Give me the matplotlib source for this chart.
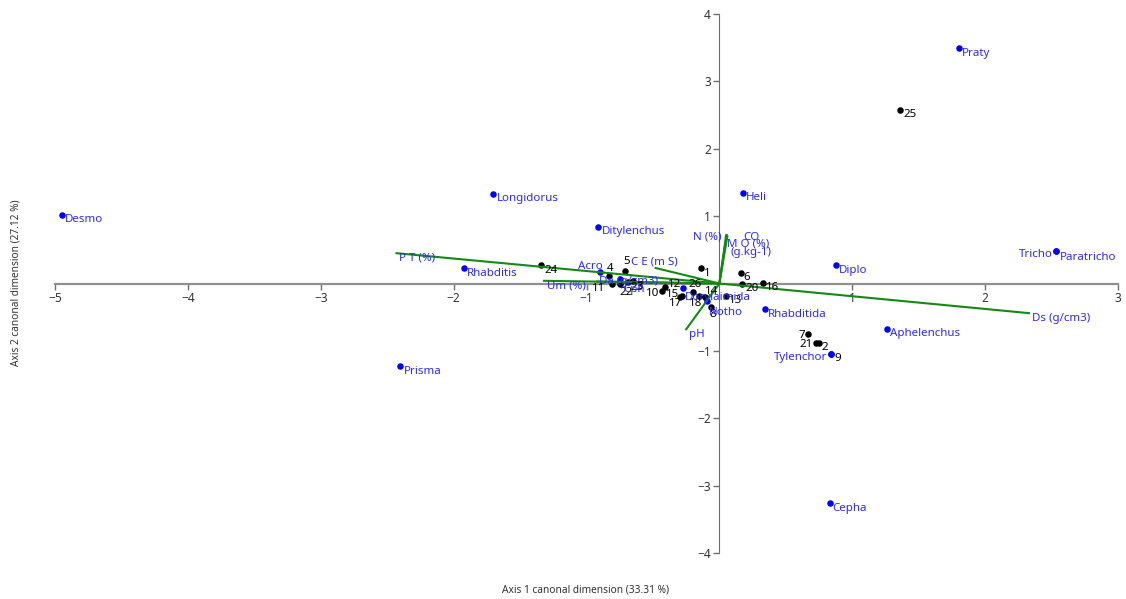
import matplotlib
matplotlib.use("Agg")
import matplotlib.pyplot as plt

plt.rcParams['font.family'] = ['Noto Sans', 'DejaVu Sans']

# species scores (blue)
species_names = ["Desmo", "Longidorus", "Rhabditis", "Prisma", "Ditylenchus", "Acro", "Cph",
                 "Dorylaimida", "Notho", "Heli", "Praty", "Tricho", "Paratricho", "Diplo",
                 "Rhabditida", "Aphelenchus", "Tylenchor", "Cepha"]
species_x = [-4.95, -1.70, -1.92, -2.40, -0.91, -0.90, -0.75,
             -0.27, -0.09, 0.18, 1.80, 2.53, 2.53, 0.88,
             0.34, 1.26, 0.84, 0.83]
species_y = [1.02, 1.33, 0.23, -1.23, 0.84, 0.17, 0.07,
             -0.07, -0.26, 1.35, 3.49, 0.48, 0.48, 0.27,
             -0.38, -0.67, -1.05, -3.26]

# sample scores (black)
sample_ids = ["1", "2", "3", "4", "5", "6", "7", "8", "9", "10", "11", "12", "13",
              "14", "15", "17", "18", "20", "21", "22", "23", "24", "25", "26", "16"]
sample_x = [-0.14, 0.75, -0.65, -0.83, -0.71, 0.16, 0.67, -0.06, 0.84, -0.43, -0.81, -0.41, 0.05,
            -0.11, -0.28, -0.30, -0.15, 0.17, 0.73, -0.75, -0.69, -1.34, 1.36, -0.20, 0.33]
sample_y = [0.23, -0.89, 0.03, 0.11, 0.19, 0.16, -0.75, -0.35, -1.05, -0.11, -0.01, -0.05, -0.18,
            -0.20, -0.19, -0.20, -0.19, 0.00, -0.89, 0.00, 0.02, 0.27, 2.58, -0.12, 0.01]

# environmental vectors (green)
env_names = ["P T (%)", "Um (%)", "Da (g/cm3)", "C E (m S)", "N (%)", "M O (%)",
             "CO\n(g.kg-1)", "pH", "Ds (g/cm3)"]
env_x = [-2.43, -1.32, -0.92, -0.48, 0.055, 0.06, 0.05, -0.25, 2.33]
env_y = [0.45, 0.04, 0.03, 0.23, 0.72, 0.70, 0.71, -0.68, -0.44]

# label placement (pixel offsets, alignment); default is right and a bit below
default_off = (3, -5, 'left')
label_off = {
    "Tricho": (-3, -3, 'right'), "Tylenchor": (-4, -3, 'right'), "Acro": (3, 6, 'right'),
    "Dorylaimida": (1, -9, 'left'), "Notho": (1, -11, 'left'), "Cph": (4, -11, 'left'),
    "Paratricho": (4, -6, 'left'),
    "4": (-2, 8, 'left'), "5": (-2, 9, 'left'), "11": (-7, -4, 'right'),
    "22": (0, -9, 'left'), "10": (-3, -3, 'right'), "12": (3, 2, 'left'),
    "15": (-3, 2, 'right'), "17": (3, -7, 'right'), "18": (3, -7, 'right'),
    "26": (-4, 7, 'left'), "14": (0, 5, 'left'), "8": (-2, -7, 'left'),
    "19": (3, -6, 'left'), "7": (-3, -1, 'right'), "21": (-4, -1, 'right'),
    "2": (2, -4, 'left'), "9": (3, -4, 'left'),
    "Da (g/cm3)": (2, 0, 'left'), "C E (m S)": (-25, 6, 'left'), "N (%)": (-5, -2, 'right'),
    "M O (%)": (0, -8, 'left'), "CO\n(g.kg-1)": (25, -9, 'center'),
}

fig = plt.figure(figsize=(11.26, 5.99), dpi=100)
ax = fig.add_axes([55 / 1126, 46 / 599, 1063 / 1126, 539 / 599])
ax.set_xlim(-5, 3)
ax.set_ylim(-4, 4)

for s in ['top', 'right']:
    ax.spines[s].set_visible(False)
ax.spines['left'].set_position(('data', 0))
ax.spines['left'].set_bounds(-4, 4)
ax.spines['left'].set_color('#707070')
ax.spines['bottom'].set_position(('data', 0))
ax.spines['bottom'].set_bounds(-5, 3)
ax.spines['bottom'].set_color('#909090')
ax.spines['bottom'].set_linewidth(1.6)
ax.set_xticks([-5, -4, -3, -2, -1, 1, 2, 3])
ax.set_yticks([-4, -3, -2, -1, 1, 2, 3, 4])
ax.tick_params(length=4, width=1, color='#707070', labelcolor='#333333', labelsize=8.6, pad=2)


def put_label(txt, x, y, color):
    dx, dy, ha = label_off.get(txt, default_off)
    ax.annotate(txt, (x, y), xytext=(dx, dy), textcoords='offset pixels', ha=ha, va='center',
                fontsize=8.3, color=color, zorder=6, linespacing=1.5)


ax.scatter(sample_x, sample_y, s=22, color='black', zorder=3, linewidths=0)
ax.scatter(species_x, species_y, s=22, color='#0000ff', zorder=3, linewidths=0)

for name, ex, ey in zip(env_names, env_x, env_y):
    ax.plot([0, ex], [0, ey], color='#138a13', lw=1.5, zorder=4)
    put_label(name, ex, ey, '#2a2aff')

for sid, sx, sy in zip(sample_ids, sample_x, sample_y):
    put_label(sid, sx, sy, 'black')

for nm, sx, sy in zip(species_names, species_x, species_y):
    put_label(nm, sx, sy, '#2a2aff')

fig.text(586 / 1126, 1 - 590 / 599, "Axis 1 canonal dimension (33.31 %)", ha='center', va='center',
         fontsize=7.3, color='#333333')
fig.text(16 / 1126, 1 - 283 / 599, "Axis 2 canonal dimension (27.12 %)", ha='center', va='center',
         rotation=90, fontsize=7.3, color='#333333')

fig.savefig("out.png", dpi=100)
